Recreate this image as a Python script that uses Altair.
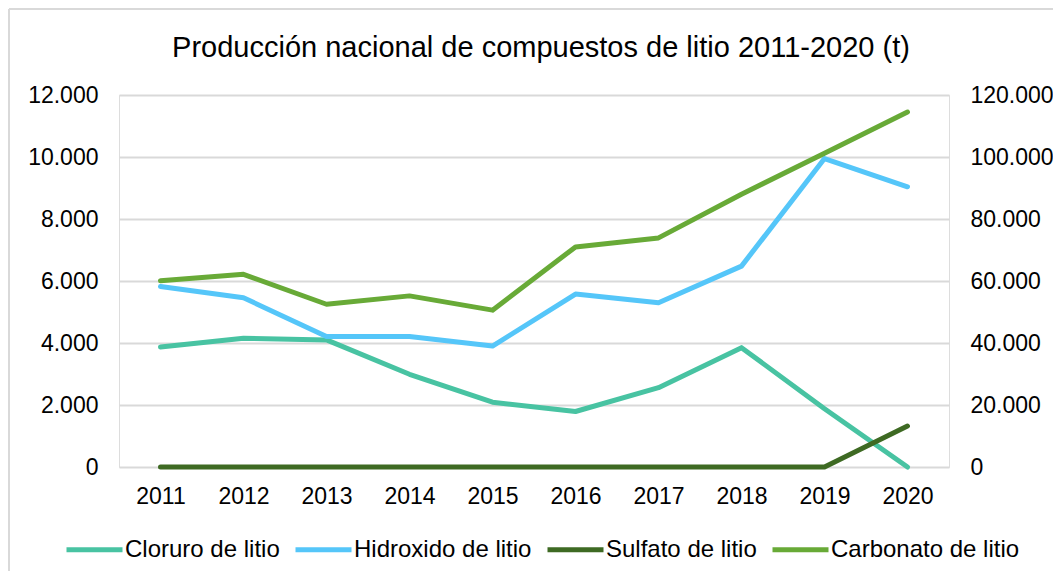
import altair as alt
import pandas as pd

years = [2011, 2012, 2013, 2014, 2015, 2016, 2017, 2018, 2019, 2020]
cloruro = [3870, 4150, 4100, 2990, 2090, 1790, 2560, 3850, 1880, 0]
hidroxido = [5820, 5460, 4210, 4210, 3900, 5580, 5300, 6480, 9950, 9040]
sulfato = [0, 0, 0, 0, 0, 0, 0, 0, 0, 1320]
carbonato = [60100, 62150, 52500, 55200, 50600, 71000, 73900, 88000, 101200, 114500]

series_names = ["Cloruro de litio", "Hidroxido de litio", "Sulfato de litio", "Carbonato de litio"]
series_colors = ["#48C3A2", "#55C6F9", "#3E6A23", "#68AA37"]
title_text = "Producción nacional de compuestos de litio 2011-2020 (t)"

left_rows = []
for name, vals in [(series_names[0], cloruro), (series_names[1], hidroxido), (series_names[2], sulfato)]:
    for y, v in zip(years, vals):
        left_rows.append({"year": str(y), "serie": name, "valor": v})
left_df = pd.DataFrame(left_rows)
right_df = pd.DataFrame({"year": [str(y) for y in years], "serie": series_names[3], "valor": carbonato})

W, H = 830, 372
PAD_L, PAD_T = 111, 87
TOTAL_W, TOTAL_H = 1045, 563

fmt = "replace(format(datum.value, ','), ',', '.')"

color = alt.Color(
    "serie:N",
    scale=alt.Scale(domain=series_names, range=series_colors),
    sort=series_names,
    legend=alt.Legend(
        title=None,
        orient="none",
        direction="horizontal",
        legendX=-55,
        legendY=424,
        symbolType="stroke",
        symbolSize=3136,
        symbolStrokeWidth=5,
        labelFontSize=24,
        labelFont="Liberation Sans",
        labelColor="#000000",
        labelOffset=0,
        columnPadding=5,
        labelLimit=400,
    ),
)

x = alt.X(
    "year:O",
    scale=alt.Scale(type="point", padding=0.5),
    axis=alt.Axis(
        title=None, labelAngle=0, ticks=False, domain=False, grid=False,
        labelFontSize=23, labelFont="Liberation Sans", labelColor="#000000", labelPadding=18,
    ),
)

left = alt.Chart(left_df).mark_line(strokeWidth=5, strokeCap="round", strokeJoin="round").encode(
    x=x,
    y=alt.Y(
        "valor:Q",
        scale=alt.Scale(domain=[0, 12000], nice=False),
        axis=alt.Axis(
            title=None, orient="left", values=[0, 2000, 4000, 6000, 8000, 10000, 12000],
            labelExpr=fmt, ticks=False, domain=False, grid=True, gridColor="#d9d9d9", gridWidth=2,
            labelFontSize=23, labelFont="Liberation Sans", labelColor="#000000", labelPadding=21,
        ),
    ),
    color=color,
)

right = alt.Chart(right_df).mark_line(strokeWidth=5, strokeCap="round", strokeJoin="round").encode(
    x=x,
    y=alt.Y(
        "valor:Q",
        scale=alt.Scale(domain=[0, 120000], nice=False),
        axis=alt.Axis(
            title=None, orient="right", values=[0, 20000, 40000, 60000, 80000, 100000, 120000],
            labelExpr=fmt, ticks=False, domain=False, grid=False,
            labelFontSize=23, labelFont="Liberation Sans", labelColor="#000000", labelPadding=21,
        ),
    ),
    color=color,
)

one = pd.DataFrame({"t": [title_text]})
border_v = alt.Chart(one).mark_rule(color="#d9d9d9", strokeWidth=2).encode(
    x=alt.value(-110), y=alt.value(-86), y2=alt.value(TOTAL_H - PAD_T + 5)
)
border_h = alt.Chart(one).mark_rule(color="#d9d9d9", strokeWidth=2).encode(
    x=alt.value(-110), x2=alt.value(TOTAL_W - PAD_L + 5), y=alt.value(-86)
)
title = alt.Chart(one).mark_text(
    fontSize=29, font="Liberation Sans", color="#000000", align="center", baseline="alphabetic"
).encode(x=alt.value(422), y=alt.value(-38), text="t:N")

chart = (
    alt.layer(border_v, border_h, title, left, right)
    .resolve_scale(y="independent")
    .properties(
        width=W,
        height=H,
        autosize=alt.AutoSizeParams(type="none"),
        padding={"left": PAD_L, "top": PAD_T, "right": TOTAL_W - PAD_L - W, "bottom": TOTAL_H - PAD_T - H},
    )
    .configure_view(stroke=None)
    .configure(background="white")
)

chart.save("out.html", embed_options={"renderer": "svg", "actions": False})
